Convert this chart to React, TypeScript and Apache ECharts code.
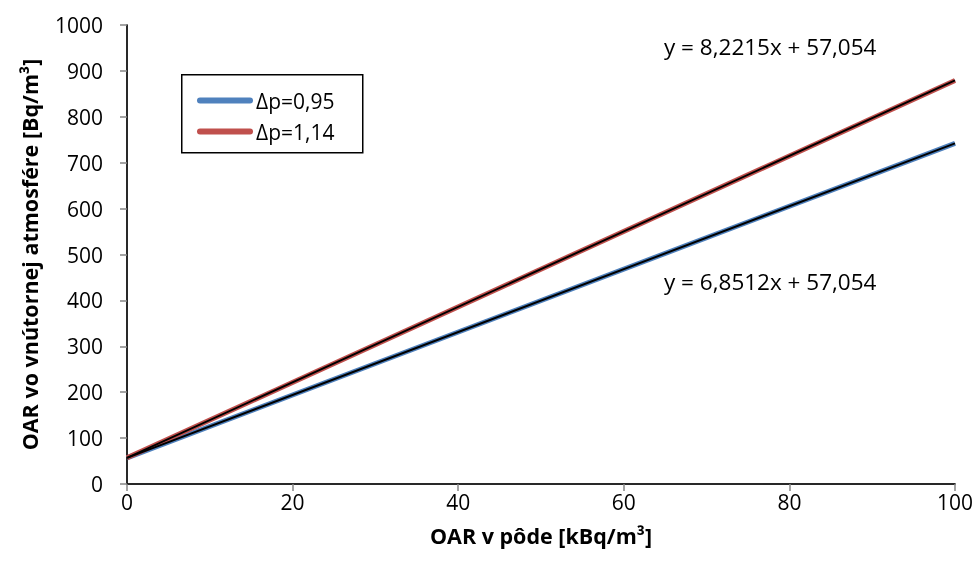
import React, { useEffect, useRef } from "react";
import * as echarts from "echarts";

const xValues = [0, 100];
const blueValues = [57.054, 742.174];
const redValues = [57.054, 879.204];
const seriesNames = ["Δp=0,95", "Δp=1,14"];
const equations = ["y = 8,2215x + 57,054", "y = 6,8512x + 57,054"];
const xTitle = "OAR v pôde [kBq/m³]";
const yTitle = "OAR vo vnútornej atmosfére [Bq/m³]";

const FONT = "'Open Sans', sans-serif";
const BLUE = "#4F81BD";
const RED = "#C0504D";
const AXIS = "#868686";
const CAPSULE = "path://M3,0 L53,0 A3,3 0 0 1 53,6 L3,6 A3,3 0 0 1 3,0 Z";

export default function App() {
  const ref = useRef<HTMLDivElement>(null);
  useEffect(() => {
    if (!ref.current) return;
    const chart = echarts.init(ref.current, undefined, { renderer: "svg" });
    const pts = (vals: number[]) => xValues.map((x, i) => [x, vals[i]]);
    chart.setOption({
      animation: false,
      textStyle: { fontFamily: FONT },
      grid: { left: 127, right: 23, top: 25, bottom: 86 },
      legend: {
        orient: "vertical",
        left: 197,
        top: 86,
        padding: 0,
        itemGap: 2,
        itemWidth: 56,
        itemHeight: 6,
        z: 20,
        data: seriesNames.map((n) => ({ name: n, icon: CAPSULE })),
        textStyle: { fontFamily: FONT, fontSize: 21, color: "#000", padding: [0, 0, 0, -2], lineHeight: 29 },
      },
      xAxis: [
        {
          type: "value",
          min: 0,
          max: 100,
          interval: 20,
          position: "bottom",
          axisLine: { show: true, lineStyle: { color: AXIS, width: 1.5 } },
          axisTick: { show: true, length: 7, lineStyle: { color: AXIS, width: 1.5 } },
          axisLabel: { color: "#000", fontSize: 21, lineHeight: 21, fontFamily: FONT, margin: 7, formatter: (v: number) => String(v) },
          splitLine: { show: false },
          name: xTitle,
          nameLocation: "middle",
          nameGap: 40,
          nameMoveOverlap: false,
          nameTextStyle: { fontSize: 21.5, lineHeight: 22, fontWeight: "bold", color: "#000", fontFamily: FONT },
        },
        {
          type: "value",
          min: 0,
          max: 100,
          position: "top",
          axisLine: { show: true, lineStyle: { color: "#000", width: 1.5 } },
          axisTick: { show: false },
          axisLabel: { show: false },
          splitLine: { show: false },
        },
      ],
      yAxis: [
        {
          type: "value",
          min: 0,
          max: 1000,
          interval: 100,
          position: "left",
          axisLine: { show: true, lineStyle: { color: AXIS, width: 1.5 } },
          axisTick: { show: true, length: 7, lineStyle: { color: AXIS, width: 1.5 } },
          axisLabel: { color: "#000", fontSize: 21, fontFamily: FONT, margin: 24, formatter: (v: number) => String(v) },
          splitLine: { show: false },
          name: yTitle,
          nameLocation: "middle",
          nameGap: 87,
          nameMoveOverlap: false,
          nameRotate: 90,
          nameTextStyle: { fontSize: 21.5, fontWeight: "bold", color: "#000", fontFamily: FONT },
        },
        {
          type: "value",
          min: 0,
          max: 1000,
          position: "right",
          axisLine: { show: true, lineStyle: { color: "#000", width: 1.5 } },
          axisTick: { show: false },
          axisLabel: { show: false },
          splitLine: { show: false },
        },
      ],
      series: [
        {
          name: seriesNames[0],
          type: "line",
          data: pts(blueValues),
          symbol: "none",
          lineStyle: { color: BLUE, width: 5 },
          itemStyle: { color: BLUE },
        },
        {
          name: seriesNames[1],
          type: "line",
          data: pts(redValues),
          symbol: "none",
          lineStyle: { color: RED, width: 5 },
          itemStyle: { color: RED },
        },
        {
          name: "trend1",
          type: "line",
          data: pts(blueValues),
          symbol: "none",
          lineStyle: { color: "#000", width: 2 },
          z: 5,
        },
        {
          name: "trend2",
          type: "line",
          data: pts(redValues),
          symbol: "none",
          lineStyle: { color: "#000", width: 2 },
          z: 5,
        },
      ],
      graphic: [
        {
          type: "rect",
          left: 181,
          top: 74,
          shape: { width: 181, height: 78 },
          style: { fill: "#fff", stroke: "#000", lineWidth: 1.5 },
          z: 1,
        },
        {
          type: "text",
          left: 664,
          top: 35,
          style: { text: equations[0], fontSize: 22.5, fontFamily: FONT, fill: "#000" },
          z: 10,
        },
        {
          type: "text",
          left: 664,
          top: 270,
          style: { text: equations[1], fontSize: 22.5, fontFamily: FONT, fill: "#000" },
          z: 10,
        },
      ],
    });
    return () => chart.dispose();
  }, []);
  return <div ref={ref} style={{ position: "fixed", left: 0, top: 0, width: 978, height: 570 }} />;
}
